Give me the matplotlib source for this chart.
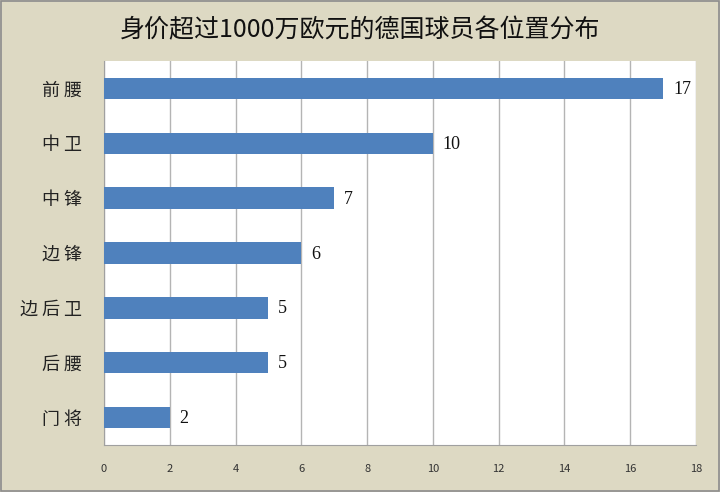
import matplotlib
matplotlib.use("Agg")
import matplotlib.pyplot as plt
from matplotlib.patches import Rectangle

plt.rcParams['font.family'] = ['Noto Sans CJK SC', 'DejaVu Sans']

positions = ['前腰', '中卫', '中锋', '边锋', '边后卫', '后腰', '门将']
counts = [17, 10, 7, 6, 5, 5, 2]
xticks = [0, 2, 4, 6, 8, 10, 12, 14, 16, 18]

bg = '#DDD9C3'
fig = plt.figure(figsize=(7.2, 4.92), dpi=100, facecolor=bg)
fig.patches.append(Rectangle((0.002, 0.002), 0.996, 0.996, transform=fig.transFigure,
                             fill=False, edgecolor='#8c8c8c', linewidth=1.2))

ax = fig.add_axes([0.1444, 0.0955, 0.8222, 0.7805])
ypos = list(range(len(positions)))
ax.barh(ypos, counts, height=0.39, color='#4F81BD', zorder=3)
ax.set_ylim(len(positions) - 0.5, -0.5)
ax.set_xlim(0, 18)
ax.set_xticks(xticks)
ax.set_xticklabels([str(t) for t in xticks], fontsize=8, color='#333333')
ax.set_yticks(ypos)
# spaced-out labels like the original
ax.set_yticklabels([' '.join(p) for p in positions], fontsize=13, color='#222222')
ax.tick_params(length=0)
ax.tick_params(axis='x', pad=14)
ax.tick_params(axis='y', pad=16)
ax.grid(axis='x', color='#b4b4b4', linewidth=1, zorder=0)
for s in ['top', 'right']:
    ax.spines[s].set_visible(False)
for s in ['left', 'bottom']:
    ax.spines[s].set_color('#a0a0a0')

for y, v in zip(ypos, counts):
    ax.text(v + 0.3, y + 0.02, str(v), va='center', ha='left', fontsize=13,
            family='Liberation Serif', color='#111111')

fig.text(0.5, 0.938, '身价超过1000万欧元的德国球员各位置分布', ha='center', va='center',
         fontsize=18, fontweight='medium', color='#111111')

fig.savefig('out.png', dpi=100, facecolor=bg)
